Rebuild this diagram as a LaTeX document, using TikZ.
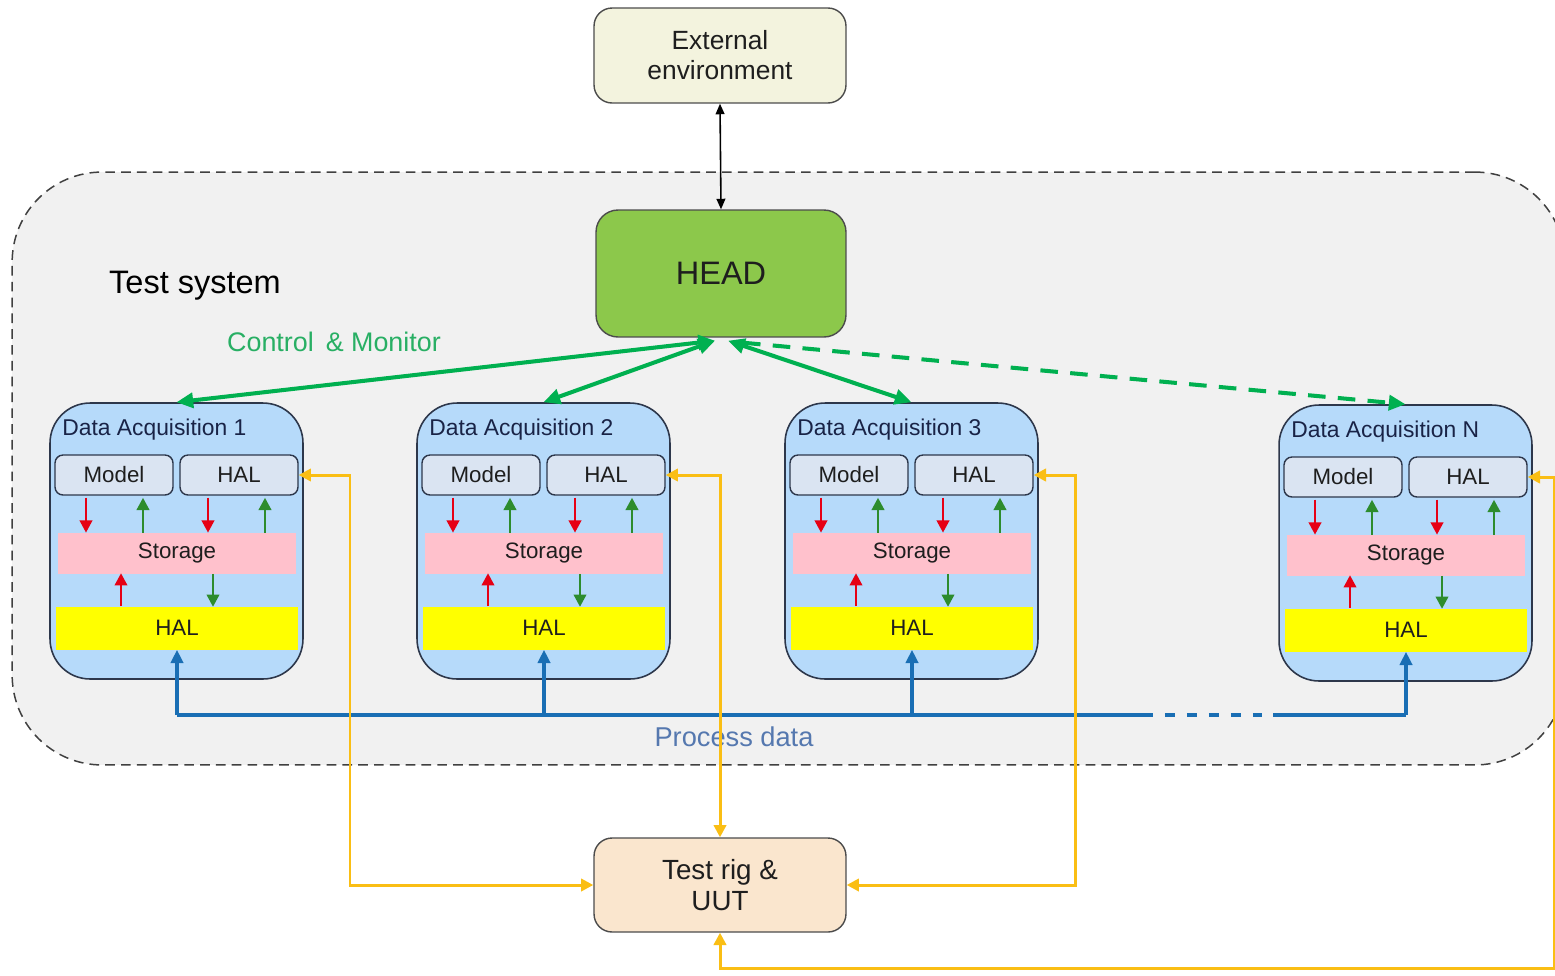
\documentclass[tikz,border=0pt]{standalone}
\usepackage{fontspec}
\setmainfont{Liberation Sans}
\usetikzlibrary{arrows.meta,calc}
\definecolor{bggray}{RGB}{241,241,241}
\definecolor{envfill}{RGB}{243,243,222}
\definecolor{headfill}{RGB}{140,200,75}
\definecolor{rigfill}{RGB}{250,230,206}
\definecolor{dafill}{RGB}{182,218,250}
\definecolor{subfill}{RGB}{218,228,242}
\definecolor{storfill}{RGB}{255,193,204}
\definecolor{halfill}{RGB}{255,255,0}
\definecolor{edgecol}{RGB}{45,55,75}
\definecolor{cmgreen}{RGB}{0,176,80}
\definecolor{cmtext}{RGB}{40,175,100}
\definecolor{inred}{RGB}{230,0,20}
\definecolor{ingreen}{RGB}{45,140,45}
\definecolor{busblue}{RGB}{25,110,180}
\definecolor{pdtext}{RGB}{85,120,175}
\definecolor{yel}{RGB}{250,190,20}
\definecolor{datext}{RGB}{25,35,70}
\definecolor{txt}{RGB}{30,30,30}
\tikzset{
  sysbox/.style={draw=black!75, line width=0.85pt, dash pattern=on 5.5pt off 3.5pt, fill=bggray,
    rounded corners=1.8cm, minimum width=31.06cm, minimum height=11.86cm, inner sep=0pt},
  bigbox/.style={draw=black!70, line width=0.8pt, inner sep=0pt, text=txt, align=center},
  dabox/.style={draw=edgecol, line width=0.9pt, fill=dafill, rounded corners=0.8cm,
    minimum width=5.06cm, minimum height=5.52cm, inner sep=0pt},
  datitle/.style={text=datext, inner sep=0pt, font=\fontsize{13}{15}\selectfont},
  subbox/.style={draw=edgecol, line width=0.8pt, fill=subfill, rounded corners=0.16cm,
    minimum width=2.36cm, minimum height=0.8cm, inner sep=0pt, text=txt, font=\fontsize{12.7}{15}\selectfont},
  storbox/.style={fill=storfill, minimum width=4.76cm, minimum height=0.82cm, inner sep=0pt,
    text=txt, font=\fontsize{12.7}{15}\selectfont},
  halbox/.style={fill=halfill, minimum width=4.84cm, minimum height=0.86cm, inner sep=0pt,
    text=txt, font=\fontsize{12.7}{15}\selectfont},
  redarr/.style={draw=inred, line width=1.6pt, -{Triangle[length=7pt,width=7pt]}},
  grnarr/.style={draw=ingreen, line width=1.6pt, -{Triangle[length=7pt,width=7pt]}},
  bluearr/.style={draw=busblue, line width=1.8pt, -{Triangle[length=7.5pt,width=7pt]}},
  busline/.style={draw=busblue, line width=1.8pt},
  cmarr/.style={draw=cmgreen, line width=2.3pt, {Triangle[length=9.5pt,width=8.5pt]}-{Triangle[length=9.5pt,width=8.5pt]}},
  cmdash/.style={draw=cmgreen, line width=2.3pt, dash pattern=on 10pt off 7pt, -{Triangle[length=9.5pt,width=8.5pt]}},
  yelarr/.style={draw=yel, line width=1.7pt, {Triangle[length=7pt,width=7pt]}-{Triangle[length=7pt,width=7pt]}},
  blkarr/.style={draw=black, line width=0.9pt, {Triangle[length=6pt,width=5pt]}-{Triangle[length=6pt,width=5pt]}}
}
\begin{document}
\begin{tikzpicture}[x=0.02cm,y=-0.02cm]
\useasboundingbox (0,0) rectangle (1555,975);
\clip (0,0) rectangle (1555,975);
\fill[white] (0,0) rectangle (1555,975);

% test system container
\node[sysbox] (sys) at (788.5,468.5) {};
\node[text=black, inner sep=0pt, font=\fontsize{18.5}{22}\selectfont] (tslabel) at (195,286) {Test system};

% top boxes
\node[bigbox, fill=envfill, rounded corners=0.36cm, minimum width=5.04cm, minimum height=1.9cm,
  font=\fontsize{15}{17}\selectfont] (env) at (720,55.5) {External\\environment};
\node[bigbox, fill=headfill, rounded corners=0.44cm, minimum width=5cm, minimum height=2.54cm,
  font=\fontsize{18.5}{22}\selectfont] (head) at (721,273.5) {HEAD};
\node[bigbox, fill=rigfill, rounded corners=0.36cm, minimum width=5.04cm, minimum height=1.88cm,
  font=\fontsize{15.8}{17.5}\selectfont] (rig) at (720,885) {Test rig \&\\UUT};

\draw[blkarr] (env.south) -- (head.north);

\node[text=cmtext, inner sep=0pt, font=\fontsize{15.3}{18}\selectfont] (cmlabel) at (334,342) {Control \,\& Monitor};
\node[text=pdtext, inner sep=0pt, font=\fontsize{15.5}{18}\selectfont] (pdlabel) at (734,737) {Process data};

% data acquisition units
\foreach \i/\dx/\dy in {1/0/0,2/367/0,3/735/0,N/1229/2}{
  \begin{scope}[shift={(\dx,\dy)}]
    \node[dabox] (da\i) at (176.5,541) {};
    \node[datitle, anchor=west] (t\i) at (62,430) {Data Acquisition \i};
    \node[subbox] (m\i) at (114,475) {Model};
    \node[subbox] (h\i) at (239,475) {HAL};
    \node[storbox] (s\i) at (177,553) {Storage};
    \node[halbox] (b\i) at (177,628) {HAL};
    \draw[redarr] ($(m\i.south)+(-28,2)$) -- ++(0,35);
    \draw[grnarr] ($(m\i.south)+(29,37)$) -- ++(0,-35);
    \draw[redarr] ($(h\i.south)+(-31,2)$) -- ++(0,35);
    \draw[grnarr] ($(h\i.south)+(26,37)$) -- ++(0,-35);
    \draw[redarr] ($(b\i.north)+(-56,0)$) -- ++(0,-33);
    \draw[grnarr] ($(s\i.south)+(36,0)$) -- ++(0,33);
  \end{scope}
}

% process data bus
\coordinate (busy) at (0,715);
\coordinate (dashA) at (1143,715);
\coordinate (dashB) at (1273,715);
\draw[busline] (b1.south |- busy) -- (dashA);
\draw[busline, dash pattern=on 5.5pt off 7pt] (dashA) -- (dashB);
\draw[busline] (dashB) -- (bN.south |- busy);
\foreach \i in {1,2,3,N}{
  \draw[bluearr] (b\i.south |- busy) -- (b\i.south);
}

% control & monitor
\coordinate (hl) at ($(head.south)+(-6,3)$);
\coordinate (hr) at ($(head.south)+(7,3)$);
\coordinate (hd) at ($(head.south)+(22,5)$);
\draw[cmarr] (hl) -- (da1.north);
\draw[cmarr] (hl) -- (da2.north);
\draw[cmarr] (hr) -- (da3.north);
\draw[cmdash] (hd) -- (daN.north);

% test rig links
\coordinate (y1) at (350,885);
\coordinate (y3) at (1075,885);
\coordinate (y4) at (1554,968);
\draw[yelarr] (h1.east) -| (y1) -- (rig.west);
\draw[yelarr] (h2.east) -| (rig.north);
\draw[yelarr] (h3.east) -| (y3) -- (rig.east);
\draw[yelarr] (hN.east) -| (y4) -| (rig.south);
\end{tikzpicture}
\end{document}
